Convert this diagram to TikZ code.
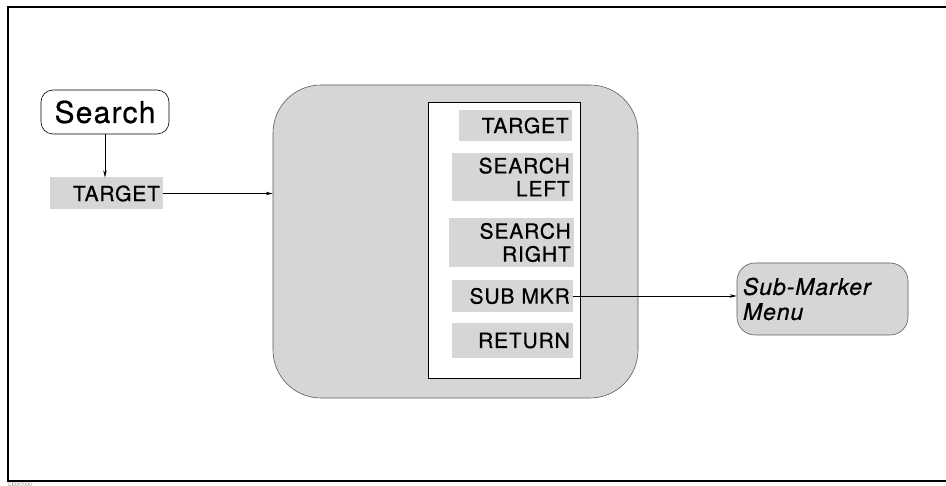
\documentclass[tikz,border=0pt]{standalone}
\usepackage{fontspec}
\setmainfont{TeX Gyre Heros}
\newfontfamily\keyfont[LetterSpace=4,FakeBold=0.7]{TeX Gyre Heros}
\usepackage{tikz}
\usetikzlibrary{calc,positioning,arrows.meta}
\definecolor{KeyShade}{RGB}{214,214,214}
\definecolor{EdgeGray}{RGB}{90,90,90}
\tikzset{
    flowarrow/.style={line width=0.6pt,-{Stealth[length=7pt,width=3.5pt]}},
    hardkey/.style={draw=black,rounded corners=12pt,line width=0.6pt,minimum width=128pt,minimum height=44pt,inner sep=0pt,font=\keyfont\fontsize{30}{30}\selectfont},
    softkey/.style={fill=KeyShade,align=right,inner xsep=3pt,inner ysep=0pt,font=\keyfont\fontsize{21}{23}\selectfont},
    menubox/.style={draw=EdgeGray,fill=KeyShade,line width=0.6pt,inner sep=0pt},
    keycolumn/.style={draw=black,fill=white,line width=0.6pt,inner sep=0pt}
}
\begin{document}
\begin{tikzpicture}[x=1pt,y=-1pt]
		\useasboundingbox (0,0) rectangle (946,486);
		% frame
		\draw[line width=2.4pt] (946,7) -- (8,7) -- (8,481) -- (946,481);
		\node[anchor=north west,inner sep=0pt,text=gray,font=\fontsize{5}{5}\selectfont] (figid) at (8,482.5) {CE007000};
		% hardkey and first softkey
		\node[hardkey] (search) at (105,112) {Search};
		\node[softkey,text width=107pt,minimum height=32pt] (tgt) at (106.5,193.5) {TARGET};
		\draw[flowarrow] (search.south) -- (search.south |- tgt.north);
		% search menu
		\node[menubox,rounded corners=48pt,minimum width=365pt,minimum height=313pt] (menu) at (455.5,241.5) {};
		\node[keycolumn,minimum width=152pt,minimum height=276pt] (column) at (504,240) {};
		\node[softkey,text width=107pt,minimum height=31pt,anchor=east] (kTarget) at (572,125.5) {TARGET};
		\node[softkey,text width=115pt,minimum height=48pt,anchor=east] (kLeft) at (573,177) {SEARCH\\LEFT};
		\node[softkey,text width=119pt,minimum height=49pt,anchor=east] (kRight) at (574,242.5) {SEARCH\\RIGHT};
		\node[softkey,text width=115pt,minimum height=32pt,anchor=east] (kSub) at (573,296) {SUB MKR};
		\node[softkey,text width=115pt,minimum height=35pt,anchor=east] (kReturn) at (573,340.5) {RETURN};
		\draw[flowarrow] (tgt.east) -- (tgt.east -| menu.west);
		% sub-marker menu
		\node[menubox,rounded corners=18pt,minimum width=171pt,minimum height=72pt,align=left,text width=159pt,inner xsep=6pt,font=\keyfont\fontsize{23}{25}\itshape\selectfont] (subMenu) at (822.5,299) {Sub-Marker\\Menu};
		\draw[flowarrow] (kSub.east) -- (kSub.east -| subMenu.west);
\end{tikzpicture}
\end{document}
